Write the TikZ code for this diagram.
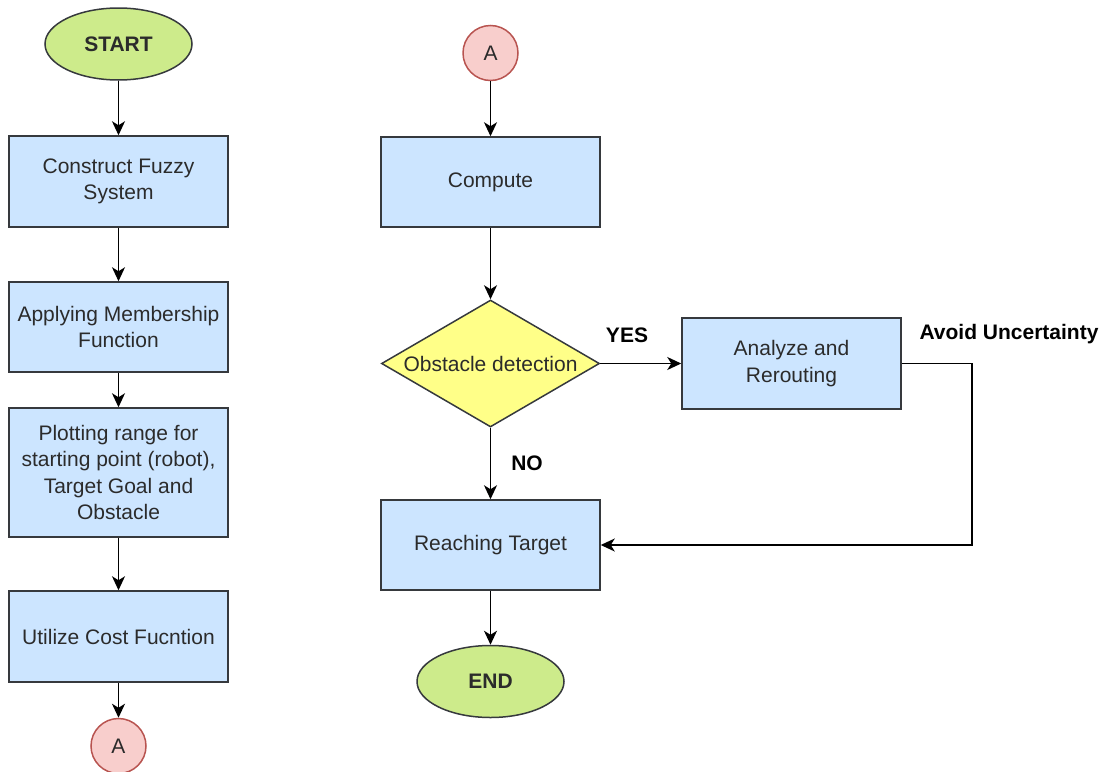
\documentclass[tikz,border=0pt]{standalone}
\usepackage{fontspec}
\setmainfont{Liberation Sans}
\usetikzlibrary{shapes.geometric,arrows.meta}
\definecolor{boxfill}{HTML}{CCE5FF}
\definecolor{edge}{HTML}{36393D}
\definecolor{termfill}{HTML}{CDEB8B}
\definecolor{linkfill}{HTML}{F8CECC}
\definecolor{linkedge}{HTML}{B85450}
\definecolor{decfill}{HTML}{FFFF88}
\definecolor{txt}{HTML}{2B2B2B}
\tikzset{
  base/.style={line width=1.5pt, draw=edge, text=txt, inner sep=0pt,
    font=\fontsize{21}{26.5}\selectfont, align=center},
  procbox/.style={base, rectangle, fill=boxfill, minimum width=219pt},
  terminal/.style={base, ellipse, fill=termfill, minimum width=147pt,
    minimum height=72pt, font=\fontsize{21}{26.5}\selectfont\bfseries},
  link/.style={base, circle, fill=linkfill, draw=linkedge, minimum size=55pt},
  decision/.style={base, diamond, fill=decfill, aspect=1.72,
    minimum width=218pt, minimum height=127pt},
  flow/.style={line width=1.6pt, draw=black,
    -{Stealth[length=14pt, width=13pt, inset=4pt]}},
  tag/.style={font=\fontsize{21}{26.5}\selectfont\bfseries, text=black, inner sep=0pt}
}
\begin{document}
\begin{tikzpicture}[x=1pt, y=-1pt]
\useasboundingbox (0,0) rectangle (1108,771);

% left column
\node[terminal] (start) at (118.5,44) {START};
\node[procbox, minimum height=91pt] (fuzzy) at (118.5,181.5) {Construct Fuzzy\\System};
\node[procbox, minimum height=90pt] (member) at (118.5,327) {Applying Membership\\Function};
\node[procbox, minimum height=129pt] (plot) at (118.5,472.5) {Plotting range for\\starting point (robot),\\Target Goal and\\Obstacle};
\node[procbox, minimum height=91pt] (cost) at (118.5,636.5) {Utilize Cost Fucntion};
\node[link] (linkout) at (118.5,746) {A};

% right column
\node[link] (linkin) at (490.5,53) {A};
\node[procbox, minimum height=90pt] (compute) at (490.5,182) {Compute};
\node[decision] (detect) at (490.5,363.5) {Obstacle detection};
\node[procbox, minimum height=91pt] (analyze) at (791.5,363.5) {Analyze and\\Rerouting};
\node[procbox, minimum height=90pt] (reach) at (490.5,545) {Reaching Target};
\node[terminal] (stop) at (490.5,681.5) {END};

% labels
\node[tag] (yes) at (627,335) {YES};
\node[tag] (no) at (527,463) {NO};
\node[tag] (avoid) at (1009,334) {Avoid Uncertainty};

\coordinate (turnA) at (972,363.5);
\coordinate (turnB) at (972,545);

% connectors
\draw[flow] (start) -- (fuzzy);
\draw[flow] (fuzzy) -- (member);
\draw[flow] (member) -- (plot);
\draw[flow] (plot) -- (cost);
\draw[flow] (cost) -- (linkout);
\draw[flow] (linkin) -- (compute);
\draw[flow] (compute) -- (detect);
\draw[flow] (detect) -- (analyze);
\draw[flow] (detect) -- (reach);
\draw[flow] (analyze.east) -- (turnA) -- (turnB) -- (reach.east);
\draw[flow] (reach) -- (stop);
\end{tikzpicture}
\end{document}
